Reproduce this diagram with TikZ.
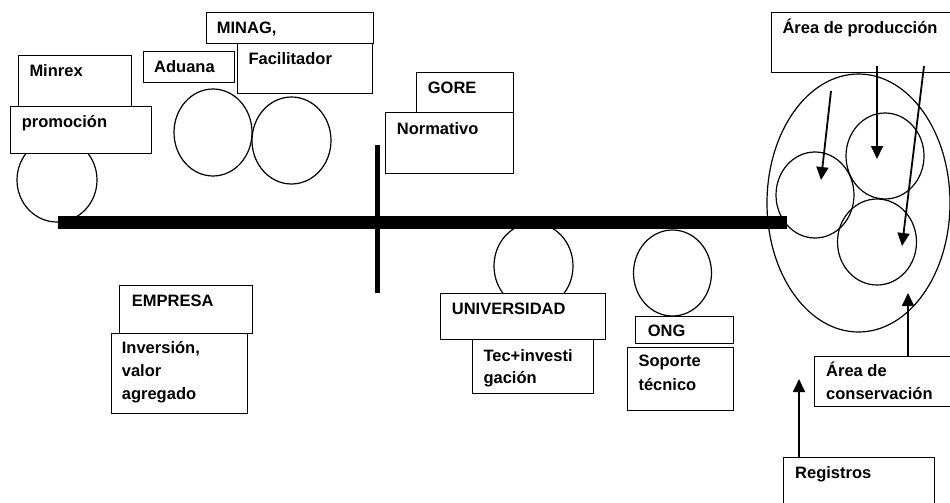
\documentclass[tikz,border=0pt]{standalone}
\usepackage{fontspec}
\setmainfont{Liberation Sans}
\usetikzlibrary{shapes.geometric,arrows.meta}
\begin{document}
\begin{tikzpicture}[x=1pt,y=-1pt,
  box/.style={draw,line width=1.4pt,fill=white,rectangle,inner sep=0pt,anchor=north west},
  ring/.style={draw,line width=1.2pt,ellipse,inner sep=0pt},
  lbl/.style={anchor=base west,inner sep=0pt,font=\bfseries\fontsize{16.5}{23}\selectfont},
  arr/.style={line width=1.8pt,-{Triangle[length=13pt,width=12pt]}},
  bar/.style={line width=13pt}]
\useasboundingbox (0,0) rectangle (950,503);
\clip (0,0) rectangle (950,503);

% circles
\node[ring,minimum width=80pt,minimum height=84pt] (cminrex) at (57,180) {};
\node[ring,minimum width=78pt,minimum height=87pt] (caduana) at (213,132.5) {};
\node[ring,minimum width=79pt,minimum height=87pt] (cminag) at (291.5,140.5) {};
\node[ring,minimum width=79pt,minimum height=86pt] (cuniv) at (533.5,266) {};
\node[ring,minimum width=78pt,minimum height=86pt] (cong) at (672.5,273) {};
\node[ring,minimum width=183pt,minimum height=258pt] (big) at (858.5,203) {};
\node[ring,minimum width=78pt,minimum height=86pt] (ca) at (815,195) {};
\node[ring,minimum width=78pt,minimum height=86pt] (cb) at (885,156) {};
\node[ring,minimum width=79pt,minimum height=86pt] (cc) at (877,242) {};

% bars
\coordinate (hl) at (58,222.5);
\coordinate (hr) at (787,222.5);
\coordinate (vt) at (377.5,145);
\coordinate (vb) at (377.5,293);
\draw[bar] (hl) -- (hr);
\draw[line width=5pt] (vt) -- (vb);

% boxes
\node[box,minimum width=167pt,minimum height=31pt] (minag) at (206,12) {};
\node[box,minimum width=135pt,minimum height=50pt] (facil) at (237,43) {};
\node[box,minimum width=91pt,minimum height=31pt] (aduana) at (143,51) {};
\node[box,minimum width=113pt,minimum height=51pt] (minrex) at (18,55) {};
\node[box,minimum width=141pt,minimum height=47pt] (promo) at (10,106) {};
\node[box,minimum width=97pt,minimum height=40pt] (gore) at (416,72) {};
\node[box,minimum width=128pt,minimum height=61pt] (norm) at (385,112) {};
\node[box,minimum width=185pt,minimum height=60pt] (prod) at (771,12) {};
\node[box,minimum width=140pt,minimum height=50pt] (cons) at (814,356) {};
\node[box,minimum width=151pt,minimum height=60pt] (reg) at (783,457) {};
\node[box,minimum width=165pt,minimum height=46pt] (univ) at (440,293) {};
\node[box,minimum width=121pt,minimum height=54pt] (tec) at (472,339) {};
\node[box,minimum width=98pt,minimum height=27pt] (ong) at (635,316) {};
\node[box,minimum width=106pt,minimum height=63pt] (sop) at (627,347) {};
\node[box,minimum width=133pt,minimum height=48pt] (emp) at (119,285) {};
\node[box,minimum width=136pt,minimum height=80pt] (inv) at (111,333) {};

% labels
\node[lbl] (tminag) at (216.7,33.3) {MINAG,};
\node[lbl] (tfacil) at (248.3,64.3) {Facilitador};
\node[lbl] (taduana) at (154,72.3) {Aduana};
\node[lbl] (tminrex) at (29.3,76.7) {Minrex};
\node[lbl] (tpromo) at (21.7,127.3) {promoción};
\node[lbl] (tgore) at (427.7,93.3) {GORE};
\node[lbl] (tnorm) at (396.7,134) {Normativo};
\node[lbl] (tprod) at (782.3,33.3) {Área de producción};
\node[lbl] (tcons1) at (826,376.7) {Área de};
\node[lbl] (tcons2) at (826,399) {conservación};
\node[lbl] (treg) at (795,478.3) {Registros};
\node[lbl] (tuniv) at (451.7,314) {UNIVERSIDAD};
\node[lbl] (ttec1) at (483.3,361.7) {Tec+investi};
\node[lbl] (ttec2) at (483.3,383.3) {gación};
\node[lbl] (tong) at (647.7,336.7) {ONG};
\node[lbl] (tsop1) at (638.3,366.7) {Soporte};
\node[lbl] (tsop2) at (638.3,390) {técnico};
\node[lbl] (temp) at (131.7,306) {EMPRESA};
\node[lbl] (tinv1) at (121.7,353.3) {Inversión,};
\node[lbl] (tinv2) at (121.7,376) {valor};
\node[lbl] (tinv3) at (121.7,399.3) {agregado};

% arrows
\coordinate (s1) at (831,91);
\coordinate (e1) at (821,180);
\coordinate (s2) at (877,66);
\coordinate (e2) at (877,159);
\coordinate (s3) at (924,66);
\coordinate (e3) at (902,246);
\coordinate (e4) at (908,293);
\coordinate (e5) at (799,379);
\draw[arr] (s1) -- (e1);
\draw[arr] (s2) -- (e2);
\draw[arr] (s3) -- (e3);
\draw[arr] (cons.north -| e4) -- (e4);
\draw[arr] (reg.north -| e5) -- (e5);
\end{tikzpicture}
\end{document}
